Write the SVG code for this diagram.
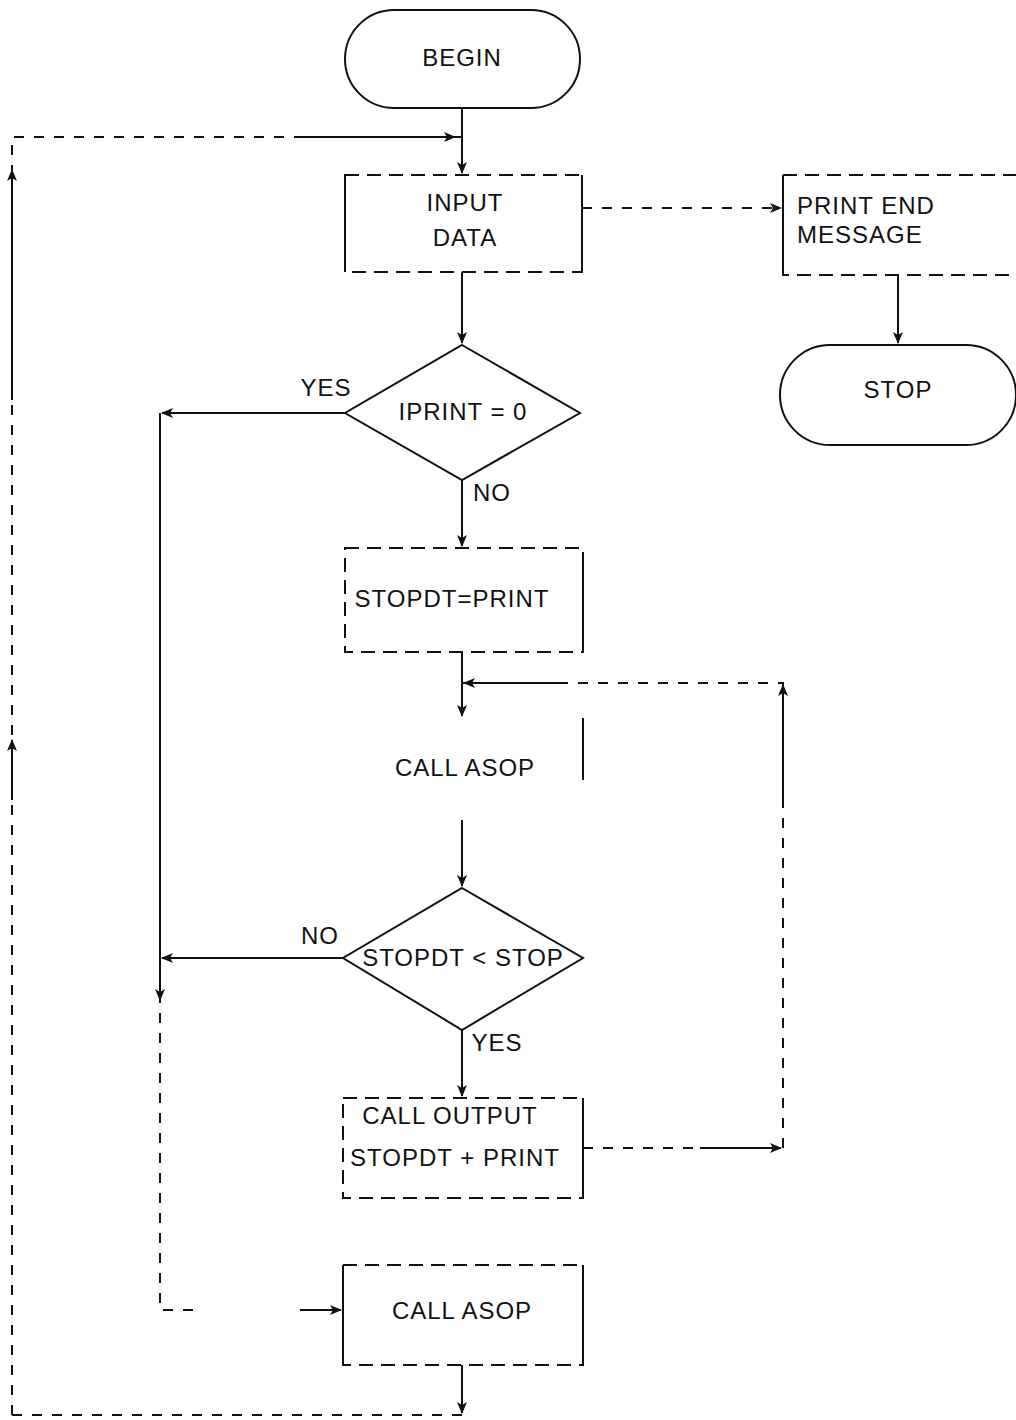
<svg xmlns="http://www.w3.org/2000/svg" width="1016" height="1420" viewBox="0 0 1016 1420">
<style>
.box{fill:none;stroke:#111;stroke-width:2}
.dash{fill:none;stroke:#111;stroke-width:2;stroke-dasharray:14 8}
.ln{fill:none;stroke:#111;stroke-width:2}
.dl{fill:none;stroke:#111;stroke-width:2;stroke-dasharray:10 10}
text{font-family:"Liberation Sans","DejaVu Sans",sans-serif;font-size:24px;fill:#111;text-anchor:middle;dominant-baseline:middle;letter-spacing:1px}
.lft{text-anchor:start}
</style>
<defs>
<marker id="ah" viewBox="0 0 12 12" refX="11" refY="6" markerWidth="12" markerHeight="12" markerUnits="userSpaceOnUse" orient="auto">
<path d="M0,1 L12,6 L0,11 L3,6 Z" fill="#111"/>
</marker>
</defs>
<rect width="1016" height="1420" fill="#fff"/>
<g id="connectors">
<path class="ln" d="M462,108 V173" marker-end="url(#ah)"/>
<path class="dl" d="M12,1415 V137 H462"/>
<path class="ln" d="M12,400 V170" marker-end="url(#ah)"/>
<path class="ln" d="M12,800 V740" marker-end="url(#ah)"/>
<path class="ln" d="M300,137 H455" marker-end="url(#ah)"/>
<path class="dl" d="M582,208 H781" marker-end="url(#ah)"/>
<path class="ln" d="M898,275 V343" marker-end="url(#ah)"/>
<path class="ln" d="M462,272 V343" marker-end="url(#ah)"/>
<path class="ln" d="M345,413 H162" marker-end="url(#ah)"/>
<path class="dl" d="M160,413 V1310 H200"/>
<path class="ln" d="M160,413 V1000" marker-end="url(#ah)"/>
<path class="ln" d="M300,1310 H341" marker-end="url(#ah)"/>
<path class="ln" d="M462,480 V546" marker-end="url(#ah)"/>
<path class="ln" d="M462,652 V716" marker-end="url(#ah)"/>
<path class="dl" d="M583,1148 H783 V683 H462"/>
<path class="ln" d="M700,1148 H781" marker-end="url(#ah)"/>
<path class="ln" d="M783,800 V685" marker-end="url(#ah)"/>
<path class="ln" d="M560,683 H464" marker-end="url(#ah)"/>
<path class="ln" d="M462,820 V886" marker-end="url(#ah)"/>
<path class="ln" d="M343,958 H162" marker-end="url(#ah)"/>
<path class="ln" d="M462,1030 V1096" marker-end="url(#ah)"/>
<path class="ln" d="M462,1365 V1413" marker-end="url(#ah)"/>
<path class="dl" d="M12,1415 H462"/>
</g>
<g id="begin">
<rect class="box" x="345" y="10" width="235" height="98" rx="49"/>
<text x="462" y="60">BEGIN</text>
</g>
<g id="input-data">
<rect class="dash" x="345" y="175" width="237" height="97"/>
<path class="ln" d="M345,175 V272 M582,175 V272"/>
<text x="465" y="205">INPUT</text>
<text x="465" y="240">DATA</text>
</g>
<g id="print-end">
<rect class="dash" x="783" y="175" width="250" height="100"/>
<path class="ln" d="M783,175 V275"/>
<text class="lft" x="797" y="208">PRINT END</text>
<text class="lft" x="797" y="237">MESSAGE</text>
</g>
<g id="stop">
<rect class="box" x="780" y="345" width="236" height="100" rx="50"/>
<text x="898" y="392">STOP</text>
</g>
<g id="iprint">
<path class="box" d="M462,345 L580,413 L462,480 L345,413 Z"/>
<text x="463" y="414">IPRINT = 0</text>
<text x="326" y="390">YES</text>
<text x="492" y="495">NO</text>
</g>
<g id="stopdt-print">
<rect class="dash" x="345" y="548" width="238" height="104"/>
<path class="ln" d="M583,560 V652"/>
<text x="452" y="601">STOPDT=PRINT</text>
</g>
<g id="call-asop-1">
<path class="ln" d="M583,718 V780"/>
<text x="465" y="770">CALL ASOP</text>
</g>
<g id="stopdt-lt-stop">
<path class="box" d="M462,888 L583,958 L462,1030 L343,958 Z"/>
<text x="463" y="960">STOPDT &lt; STOP</text>
<text x="320" y="938">NO</text>
<text x="497" y="1045">YES</text>
</g>
<g id="call-output">
<rect class="dash" x="343" y="1098" width="240" height="100"/>
<path class="ln" d="M583,1098 V1198"/>
<text x="450" y="1118">CALL OUTPUT</text>
<text x="455" y="1160">STOPDT + PRINT</text>
</g>
<g id="call-asop-2">
<rect class="dash" x="343" y="1265" width="240" height="100"/>
<path class="ln" d="M343,1265 V1365 M583,1265 V1365"/>
<text x="462" y="1313">CALL ASOP</text>
</g>
</svg>
